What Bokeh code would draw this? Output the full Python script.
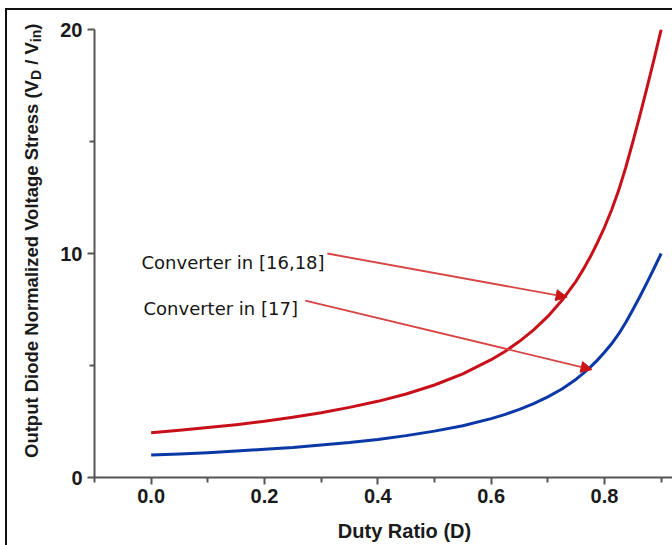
from bokeh.plotting import figure
from bokeh.layouts import row, column
from bokeh.models import (FixedTicker, Range1d, Label, Arrow, NormalHead,
                          PrintfTickFormatter, ColumnDataSource, Div)
from bokeh.core.properties import value
from bokeh.embed import file_html
from bokeh.resources import INLINE

# Duty ratio samples and normalized output-diode voltage stress (V_D / V_in)
duty = [0.0, 0.05, 0.10, 0.15, 0.20, 0.25, 0.30, 0.35, 0.40, 0.45, 0.50, 0.55,
        0.60, 0.625, 0.65, 0.675, 0.70, 0.725, 0.75, 0.7625, 0.775, 0.7875,
        0.80, 0.8125, 0.825, 0.8375, 0.85, 0.8625, 0.875, 0.8875, 0.90]
stress_16_18 = [2.00, 2.11, 2.23, 2.36, 2.51, 2.69, 2.89, 3.13, 3.40, 3.73, 4.13, 4.63,
                5.26, 5.64, 6.08, 6.59, 7.19, 7.91, 8.77, 9.29, 9.85, 10.48,
                11.17, 11.94, 12.82, 13.84, 14.98, 16.17, 17.40, 18.68, 20.0]
stress_17 = [1.00, 1.05, 1.11, 1.18, 1.26, 1.34, 1.45, 1.56, 1.70, 1.87, 2.07, 2.31,
             2.63, 2.82, 3.04, 3.30, 3.60, 3.95, 4.39, 4.65, 4.93, 5.24,
             5.59, 5.97, 6.41, 6.92, 7.49, 8.08, 8.70, 9.34, 10.0]

x_ticks = [0.0, 0.2, 0.4, 0.6, 0.8]
x_minor = [-0.1, 0.1, 0.3, 0.5, 0.7, 0.9]
y_ticks = [0, 10, 20]
y_minor = [5, 15]

series_names = ["Converter in [16,18]", "Converter in [17]"]
# callout arrows: start and end points in data units
arrow_16_18 = (0.311, 10.0, 0.734, 8.05)
arrow_17 = (0.272, 7.90, 0.778, 4.82)

# page geometry (pixels)
W, H = 672, 545
YLAB_W = 50
ROW_H = 513
FRAME_L, FRAME_R, FRAME_T, FRAME_B = 94, 672, 29, 477
X0, X1, Y0, Y1 = -0.1, 0.92, 0.0, 20.0


def px_x(px):
    return X0 + (px - FRAME_L) * (X1 - X0) / (FRAME_R - FRAME_L)


def px_y(py):
    return Y0 + (FRAME_B - py) * (Y1 - Y0) / (FRAME_B - FRAME_T)


# main plot
p = figure(width=W - YLAB_W, height=ROW_H, x_range=Range1d(X0, X1),
           y_range=Range1d(Y0, Y1), output_backend="svg", toolbar_location=None,
           min_border_left=FRAME_L - YLAB_W, min_border_right=W - FRAME_R,
           min_border_top=FRAME_T, min_border_bottom=ROW_H - FRAME_B)
p.border_fill_alpha = 0
p.background_fill_color = "white"
p.outline_line_color = None
p.grid.visible = False

AX = "#555555"
for ax in (p.xaxis[0], p.yaxis[0]):
    ax.axis_line_color = AX
    ax.axis_line_width = 2
    ax.major_tick_line_color = AX
    ax.major_tick_line_width = 2
    ax.minor_tick_line_color = AX
    ax.minor_tick_line_width = 2
    ax.major_tick_in = 0
    ax.major_tick_out = 7
    ax.minor_tick_in = 0
    ax.minor_tick_out = 5
    ax.major_label_text_font = "Liberation Sans"
    ax.major_label_text_font_style = "bold"
    ax.major_label_text_font_size = "20px"
    ax.major_label_text_color = "#1a1a1a"

p.xaxis.ticker = FixedTicker(ticks=x_ticks, minor_ticks=x_minor)
p.xaxis.formatter = PrintfTickFormatter(format="%.1f")
p.xaxis.major_label_standoff = 4
p.yaxis.ticker = FixedTicker(ticks=y_ticks, minor_ticks=y_minor)
p.yaxis.formatter = PrintfTickFormatter(format="%d")
p.yaxis.major_label_standoff = 5

src = ColumnDataSource(dict(d=duty, a=stress_16_18, b=stress_17))
p.line("d", "a", source=src, line_color="#c8101a", line_width=3, line_join="round")
p.line("d", "b", source=src, line_color="#0a38a6", line_width=3, line_join="round")

# callout texts and arrows
ann_color = "#d84444"
for name, (bx, by) in zip(series_names, [(px_x(141), px_y(262)), (px_x(143), px_y(308))]):
    p.add_layout(Label(x=bx, y=by, text=name, text_font="DejaVu Sans",
                       text_font_size="18px", text_color="#151515",
                       text_baseline="alphabetic", text_align="left"))
for (xs, ys, xe, ye) in (arrow_16_18, arrow_17):
    p.add_layout(Arrow(x_start=xs, y_start=ys, x_end=xe, y_end=ye,
                       line_color=ann_color, line_width=1.8,
                       end=NormalHead(size=11, fill_color="#cc1515",
                                      line_color="#cc1515", line_width=1)))

# rotated y axis title with subscripts (HTML text turned 90 degrees)
sub = "font-size:14px; vertical-align:-3px;"
ylab_html = (
    '<div style="display:inline-block; white-space:nowrap; width:max-content; '
    "font-family:'Liberation Sans'; font-weight:bold; font-size:18.5px; "
    'line-height:18.5px; color:#1a1a1a; transform-origin:0 0; '
    'transform:translate(23px, 458px) rotate(-90deg);">'
    f'Output Diode Normalized Voltage Stress (V<span style="{sub}">D</span>'
    f' / V<span style="{sub}">in</span>)</div>'
)
ylab = Div(text=ylab_html, width=YLAB_W, height=ROW_H,
           styles={"margin": "0", "padding": "0", "overflow": "visible"})

# x axis title
xh = H - ROW_H
xlab = figure(width=W, height=xh, x_range=Range1d(0, W), y_range=Range1d(xh, 0),
              x_axis_type=None, y_axis_type=None, output_backend="svg",
              toolbar_location=None, min_border=0)
xlab.grid.visible = False
xlab.outline_line_color = None
xlab.background_fill_alpha = 0
xlab.border_fill_alpha = 0
xlab.text(x=[404], y=[17], text=["Duty Ratio (D)"],
          text_font=value("Liberation Sans"), text_font_style="bold",
          text_font_size="20px", text_color="#1a1a1a",
          text_align="center", text_baseline="alphabetic")

frame_lines = ("linear-gradient(#111,#111) 5px 8px / 2px calc(100% - 8px) no-repeat, "
               "linear-gradient(#111,#111) 5px 8px / calc(100% - 5px) 2px no-repeat, #fff")
page = column(row(ylab, p), xlab, styles={"background": frame_lines})

open("out.html", "w").write(file_html(page, INLINE))
